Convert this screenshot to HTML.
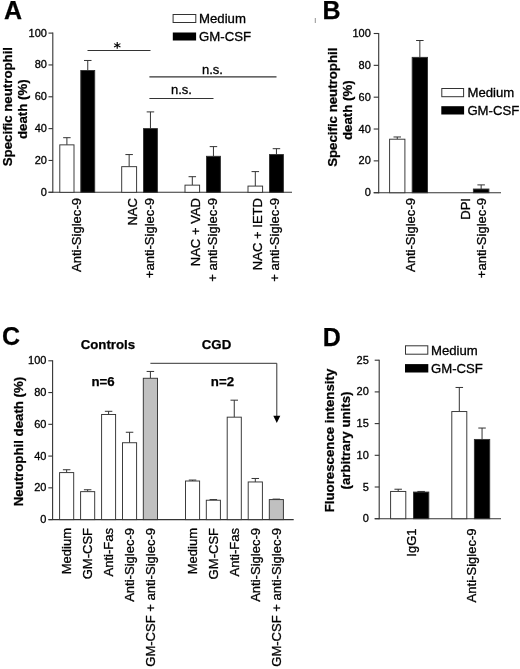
<!DOCTYPE html>
<html lang="en"><head><meta charset="utf-8"><title>Figure</title>
<style>
html,body{margin:0;padding:0;background:#fff;}
svg{display:block;font-family:"Liberation Sans", sans-serif;will-change:transform;}
</style></head>
<body>
<svg width="520" height="669" viewBox="0 0 520 669">
<rect width="520" height="669" fill="#fff"/>
<text x="4.00" y="18.80" font-size="25" font-weight="bold" text-anchor="start" fill="#000" stroke="#000" stroke-width="0.25">A</text>
<line x1="52.80" y1="32.60" x2="52.80" y2="192.80" stroke="#333" stroke-width="1.1"/>
<line x1="48.50" y1="192.30" x2="52.80" y2="192.30" stroke="#333" stroke-width="1.1"/>
<text x="46.90" y="195.80" font-size="11" text-anchor="end" fill="#000" stroke="#000" stroke-width="0.3">0</text>
<line x1="48.50" y1="160.46" x2="52.80" y2="160.46" stroke="#333" stroke-width="1.1"/>
<text x="46.90" y="163.96" font-size="11" text-anchor="end" fill="#000" stroke="#000" stroke-width="0.3">20</text>
<line x1="48.50" y1="128.62" x2="52.80" y2="128.62" stroke="#333" stroke-width="1.1"/>
<text x="46.90" y="132.12" font-size="11" text-anchor="end" fill="#000" stroke="#000" stroke-width="0.3">40</text>
<line x1="48.50" y1="96.78" x2="52.80" y2="96.78" stroke="#333" stroke-width="1.1"/>
<text x="46.90" y="100.28" font-size="11" text-anchor="end" fill="#000" stroke="#000" stroke-width="0.3">60</text>
<line x1="48.50" y1="64.94" x2="52.80" y2="64.94" stroke="#333" stroke-width="1.1"/>
<text x="46.90" y="68.44" font-size="11" text-anchor="end" fill="#000" stroke="#000" stroke-width="0.3">80</text>
<line x1="48.50" y1="33.10" x2="52.80" y2="33.10" stroke="#333" stroke-width="1.1"/>
<text x="46.90" y="36.60" font-size="11" text-anchor="end" fill="#000" stroke="#000" stroke-width="0.3">100</text>
<line x1="48.50" y1="192.30" x2="292.00" y2="192.30" stroke="#333" stroke-width="1.1"/>
<line x1="66.90" y1="144.86" x2="66.90" y2="137.69" stroke="#333" stroke-width="1.0"/>
<line x1="63.15" y1="137.69" x2="70.65" y2="137.69" stroke="#333" stroke-width="1.0"/>
<rect x="59.80" y="144.86" width="14.20" height="47.44" fill="#fff" stroke="#333" stroke-width="0.95"/>
<line x1="87.75" y1="70.51" x2="87.75" y2="60.48" stroke="#333" stroke-width="1.0"/>
<line x1="84.00" y1="60.48" x2="91.50" y2="60.48" stroke="#333" stroke-width="1.0"/>
<rect x="80.80" y="70.51" width="13.90" height="121.79" fill="#000" stroke="#333" stroke-width="0.95"/>
<line x1="129.15" y1="166.67" x2="129.15" y2="154.57" stroke="#333" stroke-width="1.0"/>
<line x1="125.40" y1="154.57" x2="132.90" y2="154.57" stroke="#333" stroke-width="1.0"/>
<rect x="121.70" y="166.67" width="14.90" height="25.63" fill="#fff" stroke="#333" stroke-width="0.95"/>
<line x1="150.45" y1="128.62" x2="150.45" y2="111.90" stroke="#333" stroke-width="1.0"/>
<line x1="146.70" y1="111.90" x2="154.20" y2="111.90" stroke="#333" stroke-width="1.0"/>
<rect x="143.50" y="128.62" width="13.90" height="63.68" fill="#000" stroke="#333" stroke-width="0.95"/>
<line x1="192.30" y1="185.14" x2="192.30" y2="176.70" stroke="#333" stroke-width="1.0"/>
<line x1="188.55" y1="176.70" x2="196.05" y2="176.70" stroke="#333" stroke-width="1.0"/>
<rect x="185.00" y="185.14" width="14.60" height="7.16" fill="#fff" stroke="#333" stroke-width="0.95"/>
<line x1="213.45" y1="156.32" x2="213.45" y2="146.61" stroke="#333" stroke-width="1.0"/>
<line x1="209.70" y1="146.61" x2="217.20" y2="146.61" stroke="#333" stroke-width="1.0"/>
<rect x="206.50" y="156.32" width="13.90" height="35.98" fill="#000" stroke="#333" stroke-width="0.95"/>
<line x1="255.30" y1="186.09" x2="255.30" y2="171.60" stroke="#333" stroke-width="1.0"/>
<line x1="251.55" y1="171.60" x2="259.05" y2="171.60" stroke="#333" stroke-width="1.0"/>
<rect x="248.00" y="186.09" width="14.60" height="6.21" fill="#fff" stroke="#333" stroke-width="0.95"/>
<line x1="276.45" y1="154.57" x2="276.45" y2="148.68" stroke="#333" stroke-width="1.0"/>
<line x1="272.70" y1="148.68" x2="280.20" y2="148.68" stroke="#333" stroke-width="1.0"/>
<rect x="269.50" y="154.57" width="13.90" height="37.73" fill="#000" stroke="#333" stroke-width="0.95"/>
<rect x="173.1" y="14.5" width="22.7" height="8.0" fill="#fff" stroke="#333" stroke-width="1"/>
<rect x="172.8" y="32.5" width="23.3" height="8.0" fill="#000"/>
<text x="199.00" y="23.20" font-size="13.2" text-anchor="start" fill="#000" stroke="#000" stroke-width="0.3">Medium</text>
<text x="199.00" y="41.10" font-size="13.2" text-anchor="start" fill="#000" stroke="#000" stroke-width="0.3">GM-CSF</text>
<line x1="87.50" y1="50.50" x2="150.50" y2="50.50" stroke="#333" stroke-width="1.0"/>
<text x="117.2" y="52.2" font-size="14.3" font-weight="bold" font-family="DejaVu Sans, sans-serif" text-anchor="middle">*</text>
<line x1="149.40" y1="76.90" x2="276.50" y2="76.90" stroke="#333" stroke-width="1.1"/>
<text x="202.00" y="73.80" font-size="13" text-anchor="start" fill="#000" stroke="#000" stroke-width="0.3">n.s.</text>
<line x1="149.40" y1="98.50" x2="213.50" y2="98.50" stroke="#333" stroke-width="1.0"/>
<text x="171.00" y="93.80" font-size="13" text-anchor="start" fill="#000" stroke="#000" stroke-width="0.3">n.s.</text>
<text x="12.04" y="106.60" font-size="13.25" font-weight="bold" text-anchor="middle" fill="#000" stroke="#000" stroke-width="0.25" transform="rotate(-90 12.04 106.60)">Specific neutrophil</text>
<text x="26.54" y="109.20" font-size="13.25" font-weight="bold" text-anchor="middle" fill="#000" stroke="#000" stroke-width="0.25" transform="rotate(-90 26.54 109.20)">death (%)</text>
<text x="80.87" y="198.00" font-size="13.05" text-anchor="end" fill="#000" stroke="#000" stroke-width="0.3" transform="rotate(-90 80.87 198.00)">Anti-Siglec-9</text>
<text x="137.07" y="198.00" font-size="13.05" text-anchor="end" fill="#000" stroke="#000" stroke-width="0.3" transform="rotate(-90 137.07 198.00)">NAC</text>
<text x="153.87" y="198.00" font-size="13.05" text-anchor="end" fill="#000" stroke="#000" stroke-width="0.3" transform="rotate(-90 153.87 198.00)">+anti-Siglec-9</text>
<text x="200.27" y="198.00" font-size="13.05" text-anchor="end" fill="#000" stroke="#000" stroke-width="0.3" transform="rotate(-90 200.27 198.00)">NAC + VAD</text>
<text x="216.77" y="198.00" font-size="13.05" text-anchor="end" fill="#000" stroke="#000" stroke-width="0.3" transform="rotate(-90 216.77 198.00)">+ anti-Siglec-9</text>
<text x="262.07" y="198.00" font-size="13.05" text-anchor="end" fill="#000" stroke="#000" stroke-width="0.3" transform="rotate(-90 262.07 198.00)">NAC + IETD</text>
<text x="279.37" y="198.00" font-size="13.05" text-anchor="end" fill="#000" stroke="#000" stroke-width="0.3" transform="rotate(-90 279.37 198.00)">+ anti-Siglec-9</text>
<text x="322.40" y="18.80" font-size="25" font-weight="bold" text-anchor="start" fill="#000" stroke="#000" stroke-width="0.25">B</text>
<line x1="315.30" y1="18.00" x2="315.30" y2="23.00" stroke="#666" stroke-width="0.7"/>
<line x1="378.70" y1="33.00" x2="378.70" y2="193.20" stroke="#333" stroke-width="1.1"/>
<line x1="373.70" y1="192.70" x2="378.70" y2="192.70" stroke="#333" stroke-width="1.1"/>
<text x="370.80" y="196.20" font-size="11" text-anchor="end" fill="#000" stroke="#000" stroke-width="0.3">0</text>
<line x1="373.70" y1="160.86" x2="378.70" y2="160.86" stroke="#333" stroke-width="1.1"/>
<text x="370.80" y="164.36" font-size="11" text-anchor="end" fill="#000" stroke="#000" stroke-width="0.3">20</text>
<line x1="373.70" y1="129.02" x2="378.70" y2="129.02" stroke="#333" stroke-width="1.1"/>
<text x="370.80" y="132.52" font-size="11" text-anchor="end" fill="#000" stroke="#000" stroke-width="0.3">40</text>
<line x1="373.70" y1="97.18" x2="378.70" y2="97.18" stroke="#333" stroke-width="1.1"/>
<text x="370.80" y="100.68" font-size="11" text-anchor="end" fill="#000" stroke="#000" stroke-width="0.3">60</text>
<line x1="373.70" y1="65.34" x2="378.70" y2="65.34" stroke="#333" stroke-width="1.1"/>
<text x="370.80" y="68.84" font-size="11" text-anchor="end" fill="#000" stroke="#000" stroke-width="0.3">80</text>
<line x1="373.70" y1="33.50" x2="378.70" y2="33.50" stroke="#333" stroke-width="1.1"/>
<text x="370.80" y="37.00" font-size="11" text-anchor="end" fill="#000" stroke="#000" stroke-width="0.3">100</text>
<line x1="373.70" y1="192.70" x2="501.00" y2="192.70" stroke="#333" stroke-width="1.1"/>
<line x1="397.25" y1="139.21" x2="397.25" y2="136.98" stroke="#333" stroke-width="1.0"/>
<line x1="393.50" y1="136.98" x2="401.00" y2="136.98" stroke="#333" stroke-width="1.0"/>
<rect x="389.60" y="139.21" width="15.30" height="53.49" fill="#fff" stroke="#333" stroke-width="0.95"/>
<line x1="419.85" y1="57.38" x2="419.85" y2="40.50" stroke="#333" stroke-width="1.0"/>
<line x1="416.10" y1="40.50" x2="423.60" y2="40.50" stroke="#333" stroke-width="1.0"/>
<rect x="412.20" y="57.38" width="15.30" height="135.32" fill="#000" stroke="#333" stroke-width="0.95"/>
<line x1="481.15" y1="189.04" x2="481.15" y2="184.90" stroke="#333" stroke-width="1.0"/>
<line x1="477.40" y1="184.90" x2="484.90" y2="184.90" stroke="#333" stroke-width="1.0"/>
<rect x="473.40" y="189.04" width="15.50" height="3.66" fill="#000" stroke="#333" stroke-width="0.95"/>
<rect x="441.8" y="88.5" width="21.8" height="8.2" fill="#fff" stroke="#333" stroke-width="1"/>
<rect x="441.3" y="106.2" width="22.8" height="8.3" fill="#000"/>
<text x="467.50" y="97.40" font-size="13.15" text-anchor="start" fill="#000" stroke="#000" stroke-width="0.3">Medium</text>
<text x="467.40" y="114.80" font-size="13.15" text-anchor="start" fill="#000" stroke="#000" stroke-width="0.3">GM-CSF</text>
<text x="336.74" y="107.20" font-size="13.25" font-weight="bold" text-anchor="middle" fill="#000" stroke="#000" stroke-width="0.25" transform="rotate(-90 336.74 107.20)">Specific neutrophil</text>
<text x="352.04" y="110.20" font-size="13.25" font-weight="bold" text-anchor="middle" fill="#000" stroke="#000" stroke-width="0.25" transform="rotate(-90 352.04 110.20)">death (%)</text>
<text x="414.67" y="198.00" font-size="13.05" text-anchor="end" fill="#000" stroke="#000" stroke-width="0.3" transform="rotate(-90 414.67 198.00)">Anti-Siglec-9</text>
<text x="469.67" y="198.00" font-size="13.05" text-anchor="end" fill="#000" stroke="#000" stroke-width="0.3" transform="rotate(-90 469.67 198.00)">DPI</text>
<text x="486.47" y="198.00" font-size="13.05" text-anchor="end" fill="#000" stroke="#000" stroke-width="0.3" transform="rotate(-90 486.47 198.00)">+anti-Siglec-9</text>
<text x="2.10" y="344.70" font-size="25" font-weight="bold" text-anchor="start" fill="#000" stroke="#000" stroke-width="0.25">C</text>
<line x1="52.60" y1="360.30" x2="52.60" y2="520.10" stroke="#333" stroke-width="1.1"/>
<line x1="48.30" y1="519.60" x2="52.60" y2="519.60" stroke="#333" stroke-width="1.1"/>
<text x="46.40" y="523.10" font-size="11" text-anchor="end" fill="#000" stroke="#000" stroke-width="0.3">0</text>
<line x1="48.30" y1="487.84" x2="52.60" y2="487.84" stroke="#333" stroke-width="1.1"/>
<text x="46.40" y="491.34" font-size="11" text-anchor="end" fill="#000" stroke="#000" stroke-width="0.3">20</text>
<line x1="48.30" y1="456.08" x2="52.60" y2="456.08" stroke="#333" stroke-width="1.1"/>
<text x="46.40" y="459.58" font-size="11" text-anchor="end" fill="#000" stroke="#000" stroke-width="0.3">40</text>
<line x1="48.30" y1="424.32" x2="52.60" y2="424.32" stroke="#333" stroke-width="1.1"/>
<text x="46.40" y="427.82" font-size="11" text-anchor="end" fill="#000" stroke="#000" stroke-width="0.3">60</text>
<line x1="48.30" y1="392.56" x2="52.60" y2="392.56" stroke="#333" stroke-width="1.1"/>
<text x="46.40" y="396.06" font-size="11" text-anchor="end" fill="#000" stroke="#000" stroke-width="0.3">80</text>
<line x1="48.30" y1="360.80" x2="52.60" y2="360.80" stroke="#333" stroke-width="1.1"/>
<text x="46.40" y="364.30" font-size="11" text-anchor="end" fill="#000" stroke="#000" stroke-width="0.3">100</text>
<line x1="48.60" y1="519.60" x2="293.70" y2="519.60" stroke="#333" stroke-width="1.1"/>
<line x1="66.65" y1="472.60" x2="66.65" y2="469.74" stroke="#333" stroke-width="1.0"/>
<line x1="62.90" y1="469.74" x2="70.40" y2="469.74" stroke="#333" stroke-width="1.0"/>
<rect x="59.60" y="472.60" width="14.10" height="47.00" fill="#fff" stroke="#333" stroke-width="0.95"/>
<line x1="87.65" y1="491.65" x2="87.65" y2="489.75" stroke="#333" stroke-width="1.0"/>
<line x1="83.90" y1="489.75" x2="91.40" y2="489.75" stroke="#333" stroke-width="1.0"/>
<rect x="80.60" y="491.65" width="14.10" height="27.95" fill="#fff" stroke="#333" stroke-width="0.95"/>
<line x1="108.60" y1="414.47" x2="108.60" y2="411.30" stroke="#333" stroke-width="1.0"/>
<line x1="104.85" y1="411.30" x2="112.35" y2="411.30" stroke="#333" stroke-width="1.0"/>
<rect x="101.60" y="414.47" width="14.00" height="105.13" fill="#fff" stroke="#333" stroke-width="0.95"/>
<line x1="129.55" y1="442.74" x2="129.55" y2="432.26" stroke="#333" stroke-width="1.0"/>
<line x1="125.80" y1="432.26" x2="133.30" y2="432.26" stroke="#333" stroke-width="1.0"/>
<rect x="122.50" y="442.74" width="14.10" height="76.86" fill="#fff" stroke="#333" stroke-width="0.95"/>
<line x1="150.40" y1="378.27" x2="150.40" y2="371.44" stroke="#333" stroke-width="1.0"/>
<line x1="146.65" y1="371.44" x2="154.15" y2="371.44" stroke="#333" stroke-width="1.0"/>
<rect x="143.30" y="378.27" width="14.20" height="141.33" fill="#c0c0c0" stroke="#333" stroke-width="0.95"/>
<line x1="192.55" y1="481.01" x2="192.55" y2="480.06" stroke="#333" stroke-width="1.0"/>
<line x1="188.80" y1="480.06" x2="196.30" y2="480.06" stroke="#333" stroke-width="1.0"/>
<rect x="185.50" y="481.01" width="14.10" height="38.59" fill="#fff" stroke="#333" stroke-width="0.95"/>
<line x1="213.35" y1="500.23" x2="213.35" y2="499.59" stroke="#333" stroke-width="1.0"/>
<line x1="209.60" y1="499.59" x2="217.10" y2="499.59" stroke="#333" stroke-width="1.0"/>
<rect x="206.30" y="500.23" width="14.10" height="19.37" fill="#fff" stroke="#333" stroke-width="0.95"/>
<line x1="234.25" y1="417.17" x2="234.25" y2="400.18" stroke="#333" stroke-width="1.0"/>
<line x1="230.50" y1="400.18" x2="238.00" y2="400.18" stroke="#333" stroke-width="1.0"/>
<rect x="227.20" y="417.17" width="14.10" height="102.43" fill="#fff" stroke="#333" stroke-width="0.95"/>
<line x1="255.30" y1="481.96" x2="255.30" y2="478.47" stroke="#333" stroke-width="1.0"/>
<line x1="251.55" y1="478.47" x2="259.05" y2="478.47" stroke="#333" stroke-width="1.0"/>
<rect x="248.20" y="481.96" width="14.20" height="37.64" fill="#fff" stroke="#333" stroke-width="0.95"/>
<line x1="276.35" y1="499.59" x2="276.35" y2="499.11" stroke="#333" stroke-width="1.0"/>
<line x1="272.60" y1="499.11" x2="280.10" y2="499.11" stroke="#333" stroke-width="1.0"/>
<rect x="269.30" y="499.59" width="14.10" height="20.01" fill="#c0c0c0" stroke="#333" stroke-width="0.95"/>
<text x="80.70" y="348.90" font-size="13.25" font-weight="bold" text-anchor="start" fill="#000" stroke="#000" stroke-width="0.25">Controls</text>
<text x="201.80" y="348.90" font-size="13.25" font-weight="bold" text-anchor="start" fill="#000" stroke="#000" stroke-width="0.25">CGD</text>
<text x="91.40" y="385.90" font-size="13.25" font-weight="bold" text-anchor="start" fill="#000" stroke="#000" stroke-width="0.25">n=6</text>
<text x="210.80" y="386.40" font-size="13.25" font-weight="bold" text-anchor="start" fill="#000" stroke="#000" stroke-width="0.25">n=2</text>
<polyline points="150.4,363.3 276.8,363.3 276.8,417" fill="none" stroke="#333" stroke-width="1"/>
<polygon points="273.3,415.7 280.3,415.7 276.8,423" fill="#000"/>
<text x="22.74" y="441.60" font-size="13.25" font-weight="bold" text-anchor="middle" fill="#000" stroke="#000" stroke-width="0.25" transform="rotate(-90 22.74 441.60)">Neutrophil death (%)</text>
<text x="71.27" y="527.90" font-size="13.05" text-anchor="end" fill="#000" stroke="#000" stroke-width="0.3" transform="rotate(-90 71.27 527.90)">Medium</text>
<text x="92.27" y="527.90" font-size="13.05" text-anchor="end" fill="#000" stroke="#000" stroke-width="0.3" transform="rotate(-90 92.27 527.90)">GM-CSF</text>
<text x="113.27" y="527.90" font-size="13.05" text-anchor="end" fill="#000" stroke="#000" stroke-width="0.3" transform="rotate(-90 113.27 527.90)">Anti-Fas</text>
<text x="134.27" y="527.90" font-size="13.05" text-anchor="end" fill="#000" stroke="#000" stroke-width="0.3" transform="rotate(-90 134.27 527.90)">Anti-Siglec-9</text>
<text x="155.07" y="527.90" font-size="13.05" text-anchor="end" fill="#000" stroke="#000" stroke-width="0.3" transform="rotate(-90 155.07 527.90)">GM-CSF + anti-Siglec-9</text>
<text x="197.17" y="527.90" font-size="13.05" text-anchor="end" fill="#000" stroke="#000" stroke-width="0.3" transform="rotate(-90 197.17 527.90)">Medium</text>
<text x="218.07" y="527.90" font-size="13.05" text-anchor="end" fill="#000" stroke="#000" stroke-width="0.3" transform="rotate(-90 218.07 527.90)">GM-CSF</text>
<text x="238.87" y="527.90" font-size="13.05" text-anchor="end" fill="#000" stroke="#000" stroke-width="0.3" transform="rotate(-90 238.87 527.90)">Anti-Fas</text>
<text x="259.97" y="527.90" font-size="13.05" text-anchor="end" fill="#000" stroke="#000" stroke-width="0.3" transform="rotate(-90 259.97 527.90)">Anti-Siglec-9</text>
<text x="280.97" y="527.90" font-size="13.05" text-anchor="end" fill="#000" stroke="#000" stroke-width="0.3" transform="rotate(-90 280.97 527.90)">GM-CSF + anti-Siglec-9</text>
<text x="322.70" y="346.00" font-size="25" font-weight="bold" text-anchor="start" fill="#000" stroke="#000" stroke-width="0.25">D</text>
<line x1="379.20" y1="359.70" x2="379.20" y2="519.20" stroke="#333" stroke-width="1.1"/>
<line x1="374.70" y1="518.70" x2="379.20" y2="518.70" stroke="#333" stroke-width="1.1"/>
<text x="368.80" y="522.20" font-size="11" text-anchor="end" fill="#000" stroke="#000" stroke-width="0.3">0</text>
<line x1="374.70" y1="487.00" x2="379.20" y2="487.00" stroke="#333" stroke-width="1.1"/>
<text x="368.80" y="490.50" font-size="11" text-anchor="end" fill="#000" stroke="#000" stroke-width="0.3">5</text>
<line x1="374.70" y1="455.30" x2="379.20" y2="455.30" stroke="#333" stroke-width="1.1"/>
<text x="368.80" y="458.80" font-size="11" text-anchor="end" fill="#000" stroke="#000" stroke-width="0.3">10</text>
<line x1="374.70" y1="423.60" x2="379.20" y2="423.60" stroke="#333" stroke-width="1.1"/>
<text x="368.80" y="427.10" font-size="11" text-anchor="end" fill="#000" stroke="#000" stroke-width="0.3">15</text>
<line x1="374.70" y1="391.90" x2="379.20" y2="391.90" stroke="#333" stroke-width="1.1"/>
<text x="368.80" y="395.40" font-size="11" text-anchor="end" fill="#000" stroke="#000" stroke-width="0.3">20</text>
<line x1="374.70" y1="360.20" x2="379.20" y2="360.20" stroke="#333" stroke-width="1.1"/>
<text x="368.80" y="363.70" font-size="11" text-anchor="end" fill="#000" stroke="#000" stroke-width="0.3">25</text>
<line x1="374.70" y1="518.70" x2="501.00" y2="518.70" stroke="#333" stroke-width="1.1"/>
<line x1="398.20" y1="491.44" x2="398.20" y2="489.22" stroke="#333" stroke-width="1.0"/>
<line x1="394.45" y1="489.22" x2="401.95" y2="489.22" stroke="#333" stroke-width="1.0"/>
<rect x="390.60" y="491.44" width="15.20" height="27.26" fill="#fff" stroke="#333" stroke-width="0.95"/>
<line x1="421.15" y1="492.07" x2="421.15" y2="491.44" stroke="#333" stroke-width="1.0"/>
<line x1="417.40" y1="491.44" x2="424.90" y2="491.44" stroke="#333" stroke-width="1.0"/>
<rect x="413.50" y="492.07" width="15.30" height="26.63" fill="#000" stroke="#333" stroke-width="0.95"/>
<line x1="459.30" y1="411.55" x2="459.30" y2="387.46" stroke="#333" stroke-width="1.0"/>
<line x1="455.55" y1="387.46" x2="463.05" y2="387.46" stroke="#333" stroke-width="1.0"/>
<rect x="451.80" y="411.55" width="15.00" height="107.15" fill="#fff" stroke="#333" stroke-width="0.95"/>
<line x1="482.05" y1="439.45" x2="482.05" y2="428.04" stroke="#333" stroke-width="1.0"/>
<line x1="478.30" y1="428.04" x2="485.80" y2="428.04" stroke="#333" stroke-width="1.0"/>
<rect x="474.40" y="439.45" width="15.30" height="79.25" fill="#000" stroke="#333" stroke-width="0.95"/>
<rect x="405.5" y="345.8" width="22.3" height="8.4" fill="#fff" stroke="#333" stroke-width="1"/>
<rect x="405.0" y="364.1" width="23.3" height="8.4" fill="#000"/>
<text x="431.00" y="354.70" font-size="13.15" text-anchor="start" fill="#000" stroke="#000" stroke-width="0.3">Medium</text>
<text x="431.00" y="372.90" font-size="13.15" text-anchor="start" fill="#000" stroke="#000" stroke-width="0.3">GM-CSF</text>
<text x="334.24" y="440.50" font-size="13.25" font-weight="bold" text-anchor="middle" fill="#000" stroke="#000" stroke-width="0.25" transform="rotate(-90 334.24 440.50)">Fluorescence intensity</text>
<text x="350.24" y="440.50" font-size="13.25" font-weight="bold" text-anchor="middle" fill="#000" stroke="#000" stroke-width="0.25" transform="rotate(-90 350.24 440.50)">(arbitrary units)</text>
<text x="415.97" y="528.40" font-size="13.05" text-anchor="end" fill="#000" stroke="#000" stroke-width="0.3" transform="rotate(-90 415.97 528.40)">IgG1</text>
<text x="475.67" y="528.40" font-size="13.05" text-anchor="end" fill="#000" stroke="#000" stroke-width="0.3" transform="rotate(-90 475.67 528.40)">Anti-Siglec-9</text>
</svg>
</body></html>
